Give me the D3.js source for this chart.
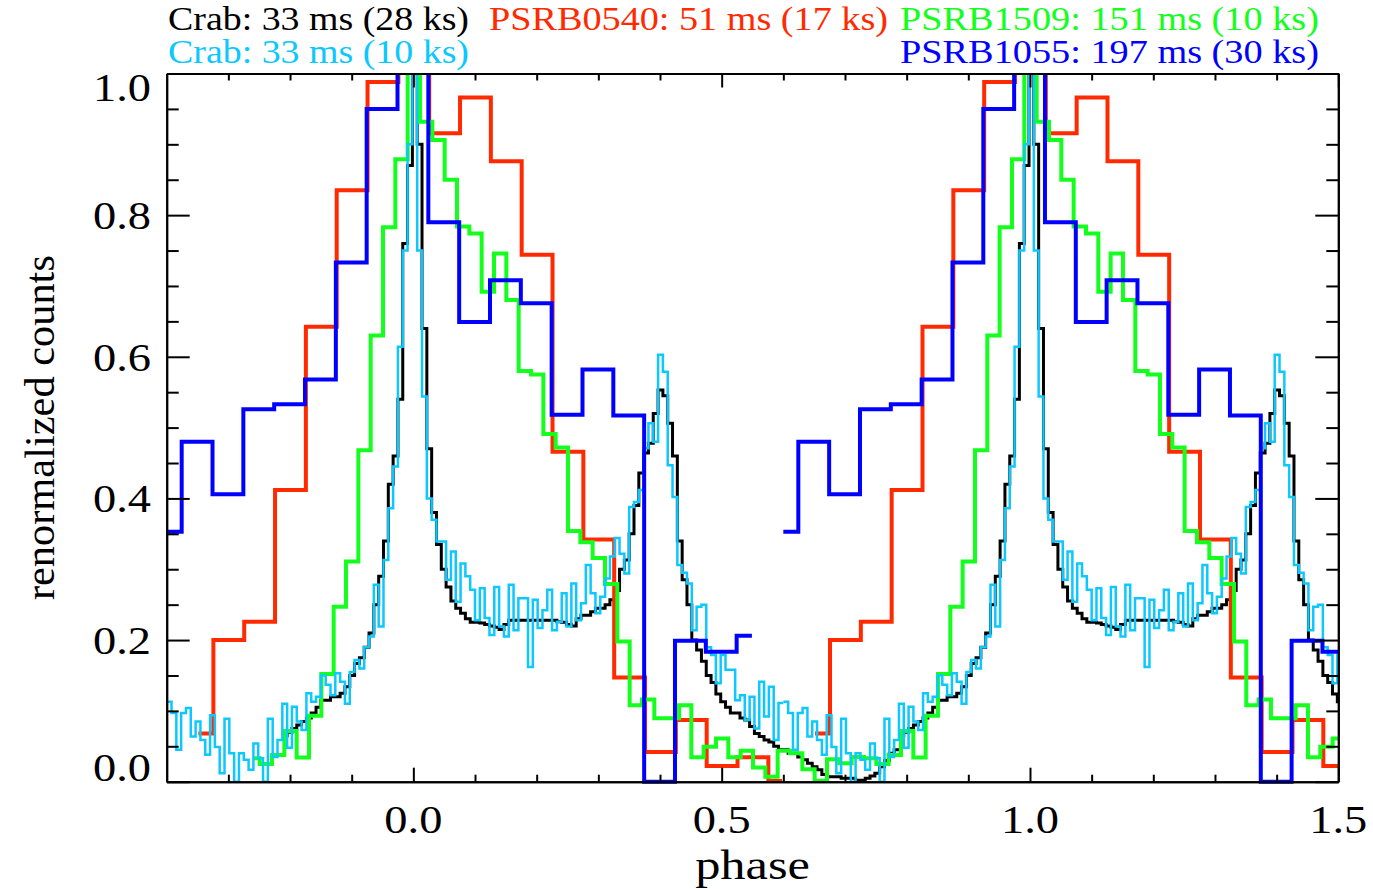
<!DOCTYPE html>
<html><head><meta charset="utf-8">
<script src="https://cdn.jsdelivr.net/npm/d3@7"></script>
<style>body{margin:0;background:#fff;} svg{display:block;}</style>
</head><body>
<svg id="chart" width="1373" height="889"></svg>
<script>
// ---------------- DATA ----------------
const xTickMajor = [0.0, 0.5, 1.0, 1.5];
const xTickLabels = ["0.0", "0.5", "1.0", "1.5"];
const xTickMinor = [-0.3, -0.2, -0.1, 0.1, 0.2, 0.3, 0.4, 0.6, 0.7, 0.8, 0.9, 1.1, 1.2, 1.3, 1.4];
const yTickMajor = [0.0, 0.2, 0.4, 0.6, 0.8, 1.0];
const yTickLabels = ["0.0", "0.2", "0.4", "0.6", "0.8", "1.0"];
const yTickMinor = [0.05, 0.1, 0.15, 0.25, 0.3, 0.35, 0.45, 0.5, 0.55, 0.65, 0.7, 0.75, 0.85, 0.9, 0.95];
const xLabel = "phase";
const yLabel = "renormalized counts";
const seriesNames = ["Crab: 33 ms (28 ks)", "PSRB0540: 51 ms (17 ks)", "PSRB1509: 151 ms (10 ks)",
                     "Crab: 33 ms (10 ks)", "PSRB1055: 197 ms (30 ks)"];
const periodOffsets = [0, 1];

// Crab 10 ks (cyan): 128 bins of 1/128 phase starting at -0.4
const crab10Start = -0.4;
const crab10Bins = 128;
const crab10Values = [
0.113,0.097,0.045,0.097,0.104,0.064,0.085,0.059,0.038,0.094,
0.049,0.012,0.089,0.040,0.000,0.040,0.031,0.017,0.054,0.033,
0.000,0.089,0.035,0.059,0.110,0.048,0.106,0.085,0.073,0.125,
0.113,0.120,0.150,0.137,0.122,0.153,0.141,0.110,0.155,0.172,
0.160,0.190,0.205,0.278,0.219,0.313,0.386,0.445,0.614,0.750,
0.900,1.000,0.750,0.544,0.400,0.370,0.339,0.339,0.285,0.325,
0.254,0.308,0.290,0.271,0.228,0.273,0.231,0.207,0.275,0.219,
0.205,0.278,0.214,0.259,0.259,0.162,0.257,0.217,0.242,0.271,
0.214,0.226,0.266,0.219,0.280,0.228,0.252,0.306,0.266,0.238,
0.261,0.287,0.318,0.344,0.322,0.294,0.388,0.395,0.412,0.471,
0.506,0.480,0.603,0.579,0.447,0.402,0.306,0.295,0.280,0.214,
0.247,0.250,0.190,0.179,0.139,0.179,0.158,0.158,0.115,0.122,
0.087,0.120,0.075,0.141,0.092,0.134,0.059,0.111];

// Crab 28 ks (black): 128 bins of 1/128 phase starting at -0.2125
const crab28Start = -0.2125;
const crab28Bins = 128;
const crab28Values = [
0.065,0.070,0.075,0.080,0.085,0.090,0.097,0.105,0.115,0.115,
0.120,0.120,0.125,0.134,0.150,0.167,0.175,0.190,0.210,0.250,
0.290,0.340,0.420,0.460,0.540,0.760,0.870,1.000,0.900,0.640,
0.470,0.380,0.335,0.300,0.275,0.255,0.245,0.238,0.230,0.225,
0.225,0.224,0.222,0.220,0.218,0.215,0.222,0.228,0.228,0.228,
0.228,0.228,0.228,0.228,0.228,0.228,0.228,0.226,0.225,0.222,
0.220,0.230,0.235,0.235,0.240,0.245,0.245,0.250,0.257,0.270,
0.300,0.313,0.350,0.390,0.436,0.464,0.478,0.520,0.553,0.545,
0.506,0.460,0.340,0.285,0.250,0.200,0.186,0.170,0.150,0.140,
0.124,0.113,0.105,0.097,0.097,0.090,0.087,0.078,0.068,0.064,
0.059,0.056,0.050,0.045,0.045,0.040,0.040,0.035,0.031,0.026,
0.021,0.017,0.010,0.007,0.007,0.007,0.005,0.005,0.005,0.002,
0.002,0.005,0.008,0.012,0.021,0.030,0.040,0.045];

// PSR B0540 (red): bin edges (phase) and values
const b0540Edges = [-0.3486,-0.3243,-0.2743,-0.2243,-0.1743,-0.1243,-0.0743,-0.0243,0.0257,0.0757,
  0.1257,0.1757,0.2257,0.2757,0.3257,0.3757,0.4257,0.4757,0.5257,0.5757,0.598];
const b0540Values = [0.068,0.200,0.226,0.412,0.6425,0.835,0.988,1.02,0.9155,0.966,
  0.876,0.744,0.466,0.342,0.147,0.042,0.087,0.022,0.0344,0.001];

// PSR B1509 (green)
const b1509Edges = [-0.2594,-0.2492,-0.2292,-0.2092,-0.1892,-0.1692,-0.1492,-0.1292,-0.1092,-0.0892,
  -0.0692,-0.0492,-0.0292,-0.0092,0.0108,0.0308,0.0508,0.0708,0.0908,0.1108,
  0.1308,0.1508,0.1708,0.1908,0.2108,0.2308,0.2508,0.2708,0.2908,0.3108,
  0.3308,0.3508,0.3708,0.3908,0.4108,0.4308,0.4508,0.4708,0.4908,0.5108,
  0.5308,0.5508,0.5708,0.5908,0.6108,0.6308,0.6508,0.6708,0.6908,0.7108,
  0.7308,0.7406];
const b1509Values = [0.033,0.025,0.0377,0.0716,0.034,0.093,0.152,0.247,0.311,0.468,
  0.630,0.783,0.879,1.02,0.932,0.906,0.850,0.784,0.774,0.692,
  0.746,0.680,0.580,0.575,0.491,0.472,0.354,0.338,0.316,0.279,
  0.198,0.108,0.116,0.0895,0.0895,0.108,0.0344,0.0494,0.061,0.0344,
  0.0438,0.020,0.007,0.0438,0.040,0.0175,0.0014,0.0316,0.026,0.035,
  0.033];

// PSR B1055 (blue)
const b1055Edges = [-0.4,-0.3757,-0.3257,-0.2757,-0.2257,-0.1757,-0.1257,-0.0757,-0.0257,0.0243,
  0.0743,0.1243,0.1743,0.2243,0.2743,0.3243,0.3743,0.4243,0.4743,0.5243,0.549];
const b1055Values = [0.353,0.480,0.406,0.526,0.533,0.568,0.733,0.950,1.02,0.790,
  0.649,0.708,0.6755,0.518,0.582,0.517,0.000,0.199,0.1836,0.206];

// ---------------- CHART ----------------
const W = 1373, H = 889;
const svg = d3.select("#chart");
const x = d3.scaleLinear().domain([-0.4, 1.5]).range([166.7, 1338.3]);
const y = d3.scaleLinear().domain([0, 1]).range([781.7, 73.5]);
const font = "'Liberation Serif','Times New Roman',Times,serif";

const colors = {black: "#000000", red: "#ff2a00", green: "#14ff1e", cyan: "#0cc8ff", blue: "#0000ff"};

svg.append("defs").append("clipPath").attr("id", "plotclip")
  .append("rect").attr("x", x(-0.4)).attr("y", y(1))
  .attr("width", x(1.5) - x(-0.4)).attr("height", y(0) - y(1) + 3);

const plot = svg.append("g").attr("clip-path", "url(#plotclip)");

function uniformEdges(start, n) { return d3.range(n + 1).map(k => start + k / 128); }

function drawHist(edges, values, color, width) {
  const pts = values.map((v, i) => [edges[i], v]);
  pts.push([edges[edges.length - 1], values[values.length - 1]]);
  periodOffsets.forEach(off => {
    const line = d3.line().x(d => x(d[0] + off)).y(d => y(d[1])).curve(d3.curveStepAfter);
    plot.append("path").datum(pts).attr("d", line)
      .attr("fill", "none").attr("stroke", color).attr("stroke-width", width)
      .attr("stroke-linejoin", "miter").attr("stroke-linecap", "butt");
  });
}

drawHist(uniformEdges(crab28Start, crab28Bins), crab28Values, colors.black, 3);
drawHist(b0540Edges, b0540Values, colors.red, 4);
drawHist(b1509Edges, b1509Values, colors.green, 4);
drawHist(uniformEdges(crab10Start, crab10Bins), crab10Values, colors.cyan, 2.5);
drawHist(b1055Edges, b1055Values, colors.blue, 4);

// ---------------- AXES ----------------
function styleAxis(g) {
  g.selectAll("path, line").attr("stroke", "#000").attr("stroke-width", 2);
  g.selectAll("text").remove();
}
const axes = svg.append("g");
// bottom
axes.append("g").attr("transform", `translate(0,${y(0)})`)
  .call(d3.axisBottom(x).tickValues(xTickMajor).tickSizeInner(-14).tickSizeOuter(0)).call(styleAxis);
axes.append("g").attr("transform", `translate(0,${y(0)})`)
  .call(d3.axisBottom(x).tickValues(xTickMinor).tickSizeInner(-7).tickSizeOuter(0)).call(styleAxis);
// top
axes.append("g").attr("transform", `translate(0,${y(1)})`)
  .call(d3.axisTop(x).tickValues(xTickMajor).tickSizeInner(-14).tickSizeOuter(0)).call(styleAxis);
axes.append("g").attr("transform", `translate(0,${y(1)})`)
  .call(d3.axisTop(x).tickValues(xTickMinor).tickSizeInner(-7).tickSizeOuter(0)).call(styleAxis);
// left
axes.append("g").attr("transform", `translate(${x(-0.4)},0)`)
  .call(d3.axisLeft(y).tickValues(yTickMajor).tickSizeInner(-23).tickSizeOuter(0)).call(styleAxis);
axes.append("g").attr("transform", `translate(${x(-0.4)},0)`)
  .call(d3.axisLeft(y).tickValues(yTickMinor).tickSizeInner(-12).tickSizeOuter(0)).call(styleAxis);
// right
axes.append("g").attr("transform", `translate(${x(1.5)},0)`)
  .call(d3.axisRight(y).tickValues(yTickMajor).tickSizeInner(-23).tickSizeOuter(0)).call(styleAxis);
axes.append("g").attr("transform", `translate(${x(1.5)},0)`)
  .call(d3.axisRight(y).tickValues(yTickMinor).tickSizeInner(-12).tickSizeOuter(0)).call(styleAxis);

// tick labels
const tickFont = 40, stretch = 1.16;
xTickMajor.forEach((v, i) => {
  svg.append("g").attr("transform", `translate(${x(v)},833) scale(${stretch},1)`)
    .append("text").attr("text-anchor", "middle").attr("font-family", font)
    .attr("font-size", tickFont).attr("fill", "#000").text(xTickLabels[i]);
});
yTickMajor.forEach((v, i) => {
  let by = y(v) + 14;
  if (v === 1.0) by = y(v) + 27;
  if (v === 0.0) by = y(v) - 0.5;
  svg.append("g").attr("transform", `translate(151,${by}) scale(${stretch},1)`)
    .append("text").attr("text-anchor", "end").attr("font-family", font)
    .attr("font-size", tickFont).attr("fill", "#000").text(yTickLabels[i]);
});

// axis titles
svg.append("g").attr("transform", `translate(${(x(-0.4) + x(1.5)) / 2},879) scale(1.2,1)`)
  .append("text").attr("text-anchor", "middle").attr("font-family", font)
  .attr("font-size", 42).attr("fill", "#000").text(xLabel);
svg.append("text").attr("transform", `translate(54,${(y(0) + y(1)) / 2}) rotate(-90)`)
  .attr("text-anchor", "middle").attr("font-family", font).attr("font-size", 42)
  .attr("textLength", 345).attr("lengthAdjust", "spacingAndGlyphs")
  .attr("fill", "#000").text(yLabel);

// legend / title lines
const legendLayout = [
  {x: 168, y: 29.5, w: 301, c: colors.black},
  {x: 489, y: 29.5, w: 399, c: colors.red},
  {x: 900, y: 29.5, w: 419, c: colors.green},
  {x: 168, y: 63, w: 301, c: colors.cyan},
  {x: 900, y: 63, w: 419, c: colors.blue}
];
seriesNames.forEach((t, i) => {
  const L = legendLayout[i];
  svg.append("text").attr("x", L.x).attr("y", L.y).attr("font-family", font)
    .attr("font-size", 33).attr("fill", L.c)
    .attr("textLength", L.w).attr("lengthAdjust", "spacingAndGlyphs").text(t);
});
</script>
</body></html>
